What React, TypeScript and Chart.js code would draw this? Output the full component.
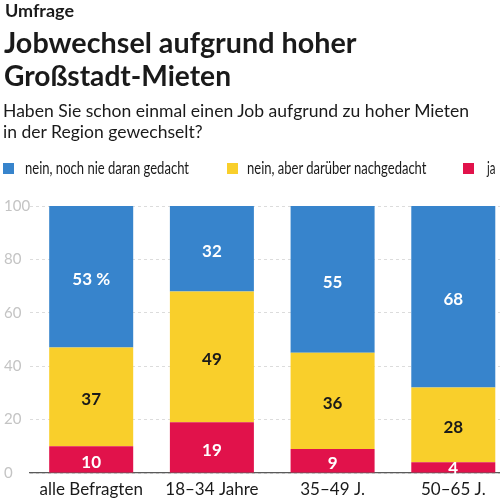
import React, { useEffect, useRef } from 'react';
import { Chart, registerables } from 'chart.js';

Chart.register(...registerables);

// ---- data ----
const categories = ['alle Befragten', '18–34 Jahre', '35–49 J.', '50–65 J.'];
const seriesNames = ['nein, noch nie daran gedacht', 'nein, aber darüber nachgedacht', 'ja'];
const neverThought = [53, 32, 55, 68];
const thoughtAbout = [37, 49, 36, 28];
const yesChanged = [10, 19, 9, 4];
const yTicks = [0, 20, 40, 60, 80, 100];
const seriesColors = ['#3784cc', '#f9cf2b', '#e1124b'];

const kicker = 'Umfrage';
const titleLines = ['Jobwechsel aufgrund hoher', 'Großstadt-Mieten'];
const subtitleLines = ['Haben Sie schon einmal einen Job aufgrund zu hoher Mieten', 'in der Region gewechselt?'];

const FONT = 'Lato, "Noto Sans", sans-serif';

let measureCtx: CanvasRenderingContext2D | null = null;
function FitText(props: { text: string; weight: number; size: number; left: number; baseline: number; width: number; color?: string }) {
  const { text, weight, size, left, baseline, width, color } = props;
  if (!measureCtx) measureCtx = document.createElement('canvas').getContext('2d');
  const ctx = measureCtx!;
  ctx.font = `${weight} ${size}px ${FONT}`;
  const m = ctx.measureText(text);
  const asc = m.fontBoundingBoxAscent || size * 0.8;
  const desc = m.fontBoundingBoxDescent || size * 0.2;
  const scale = width / m.width;
  const top = baseline - ((size - (asc + desc)) / 2 + asc);
  return (
    <div
      style={{
        position: 'absolute',
        left,
        top,
        fontFamily: FONT,
        fontWeight: weight,
        fontSize: size,
        lineHeight: `${size}px`,
        whiteSpace: 'nowrap',
        color: color || '#1a1a1a',
        transform: `scaleX(${scale})`,
        transformOrigin: '0 0',
      }}
    >
      {text}
    </div>
  );
}

const valueLabels = {
  id: 'valueLabels',
  afterDatasetsDraw(chart: any) {
    const ctx = chart.ctx;
    ctx.save();
    ctx.font = `bold 17px ${FONT}`;
    ctx.textAlign = 'center';
    ctx.textBaseline = 'middle';
    chart.data.datasets.forEach((ds: any, di: number) => {
      const meta = chart.getDatasetMeta(di);
      meta.data.forEach((bar: any, i: number) => {
        const v = ds.data[i].y;
        const label = di === 2 && i === 0 ? `${v} %` : String(v);
        ctx.fillStyle = di === 1 ? '#1a1a1a' : '#ffffff';
        const h = Math.abs(bar.base - bar.y);
        const shift = h > 20 ? 3 : 1;
        ctx.fillText(label, bar.x, (bar.y + bar.base) / 2 + shift);
      });
    });
    ctx.restore();
  },
};

function StackedChart() {
  const ref = useRef<HTMLCanvasElement>(null);
  useEffect(() => {
    const toPoints = (arr: number[]) => arr.map((v, i) => ({ x: i, y: v }));
    const chart = new Chart(ref.current!, {
      type: 'bar',
      data: {
        datasets: [
          { label: seriesNames[2], data: toPoints(yesChanged), backgroundColor: seriesColors[2] },
          { label: seriesNames[1], data: toPoints(thoughtAbout), backgroundColor: seriesColors[1] },
          { label: seriesNames[0], data: toPoints(neverThought), backgroundColor: seriesColors[0] },
        ],
      } as any,
      options: {
        animation: false,
        responsive: false,
        maintainAspectRatio: false,
        layout: { padding: { top: 206, left: 4, right: 0, bottom: 0 } },
        plugins: { legend: { display: false }, tooltip: { enabled: false }, title: { display: false } },
        datasets: { bar: { categoryPercentage: 1, barPercentage: 0.696, borderWidth: 0 } } as any,
        scales: {
          x: {
            type: 'linear',
            stacked: true,
            offset: false,
            min: -0.507,
            max: 3.387,
            afterBuildTicks: (s: any) => {
              s.ticks = categories.map((_, i) => ({ value: i }));
            },
            afterFit: (s: any) => {
              s.height = 30;
            },
            grid: { display: false, drawTicks: false, offset: false },
            border: { display: true, color: '#5a5a5a', width: 1.2 },
            ticks: {
              padding: 6,
              color: '#1a1a1a',
              font: { family: FONT, size: 17 },
              maxRotation: 0,
              autoSkip: false,
              callback: (v: any) => categories[v] ?? '',
            },
          },
          y: {
            stacked: true,
            min: 0,
            max: 100,
            afterBuildTicks: (s: any) => {
              s.ticks = yTicks.map((v) => ({ value: v }));
            },
            afterFit: (s: any) => {
              s.width = 26;
            },
            grid: { color: '#dcdcdc', lineWidth: 1, drawTicks: false },
            border: { display: false, dash: [3, 3] },
            ticks: {
              crossAlign: 'far',
              padding: 0,
              color: '#c4c4c4',
              font: { family: FONT, size: 15 },
              callback: (v: any) => (v === 100 ? '100 %' : String(v)),
            },
          },
        } as any,
      },
      plugins: [valueLabels],
    });
    return () => chart.destroy();
  }, []);
  return <canvas ref={ref} width={500} height={503} style={{ position: 'absolute', left: 0, top: 0, width: 500, height: 503 }} />;
}

const legendItems = [
  { box: 3, textLeft: 25, width: 164 },
  { box: 227, textLeft: 247, width: 180 },
  { box: 463, textLeft: 487, width: 8.5 },
];

export default function App() {
  return (
    <div style={{ position: 'fixed', left: 0, top: 0, width: 500, height: 503, background: '#ffffff', overflow: 'hidden' }}>
      <StackedChart />
      <FitText text={kicker} weight={700} size={16.5} left={5} baseline={17.3} width={69} />
      <FitText text={titleLines[0]} weight={700} size={28} left={4} baseline={52.7} width={352.5} />
      <FitText text={titleLines[1]} weight={700} size={28} left={4} baseline={85.7} width={227} />
      <FitText text={subtitleLines[0]} weight={400} size={18} left={3} baseline={116.7} width={467} />
      <FitText text={subtitleLines[1]} weight={400} size={18} left={3} baseline={137.7} width={200} />
      {legendItems.map((it, i) => (
        <React.Fragment key={i}>
          <div style={{ position: 'absolute', left: it.box, top: 163, width: 11, height: 11, background: seriesColors[i] }} />
          <FitText text={seriesNames[i]} weight={400} size={17} left={it.textLeft} baseline={174} width={it.width} />
        </React.Fragment>
      ))}
    </div>
  );
}
